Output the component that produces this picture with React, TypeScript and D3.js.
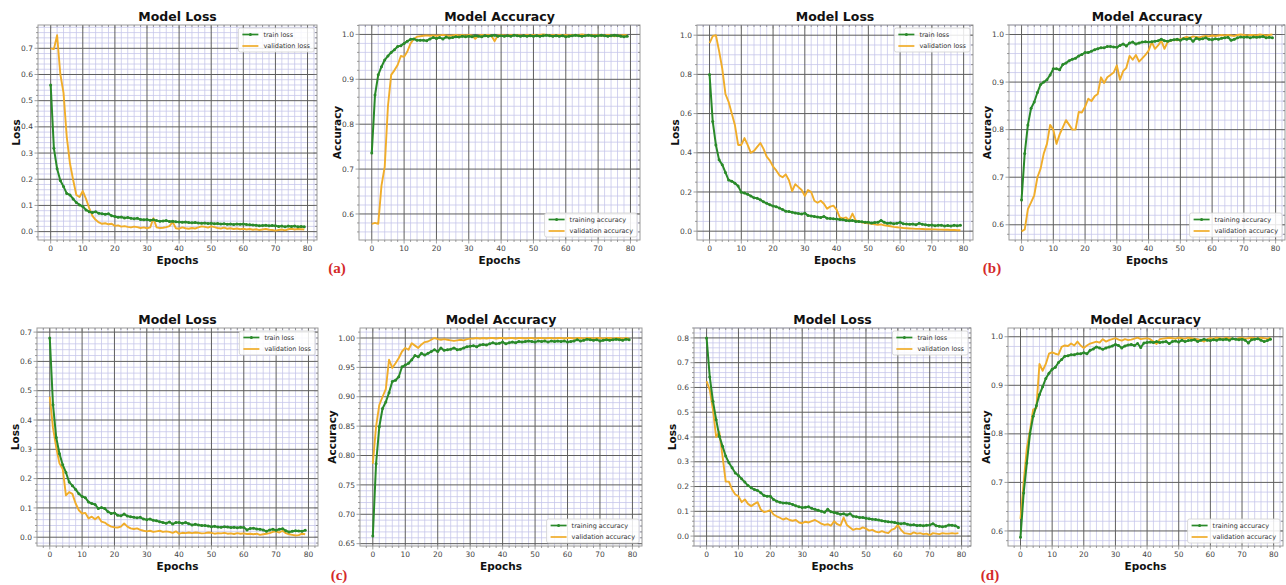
import React, { useRef, useEffect } from 'react';
import * as d3 from 'd3';

const W = 1286;
const H = 585;

const epochs = d3.range(80);
const epochTicks = [0, 10, 20, 30, 40, 50, 60, 70, 80];

const lossNames = ['train loss', 'validation loss'];
const accNames = ['training accuracy', 'validation accuracy'];

// (a)
const lossTrainA = [
  0.56, 0.318, 0.24, 0.195, 0.172, 0.146, 0.14, 0.125, 0.111, 0.102,
  0.096, 0.083, 0.076, 0.073, 0.076, 0.07, 0.068, 0.066, 0.068, 0.061,
  0.058, 0.055, 0.056, 0.052, 0.054, 0.051, 0.049, 0.051, 0.046, 0.045,
  0.046, 0.043, 0.045, 0.042, 0.04, 0.041, 0.042, 0.039, 0.04, 0.038,
  0.037, 0.036, 0.037, 0.035, 0.034, 0.035, 0.033, 0.032, 0.033, 0.031,
  0.032, 0.03, 0.031, 0.029, 0.03, 0.028, 0.029, 0.027, 0.029, 0.028,
  0.029, 0.027, 0.026, 0.025, 0.024, 0.022, 0.023, 0.024, 0.022, 0.023,
  0.022, 0.02, 0.021, 0.019, 0.021, 0.02, 0.021, 0.019, 0.02, 0.019,
];
const lossValA = [
  0.70, 0.697, 0.75, 0.602, 0.53, 0.363, 0.261, 0.197, 0.14, 0.132,
  0.155, 0.125, 0.09, 0.06, 0.045, 0.035, 0.03, 0.032, 0.028, 0.03,
  0.022, 0.024, 0.019, 0.021, 0.018, 0.016, 0.019, 0.017, 0.014, 0.016,
  0.013, 0.016, 0.051, 0.016, 0.014, 0.015, 0.017, 0.021, 0.037, 0.013,
  0.011, 0.016, 0.013, 0.011, 0.014, 0.012, 0.016, 0.02, 0.018, 0.015,
  0.02, 0.017, 0.014, 0.012, 0.015, 0.011, 0.013, 0.01, 0.012, 0.009,
  0.011, 0.008, 0.01, 0.007, 0.009, 0.006, 0.008, 0.01, 0.007, 0.006,
  0.004, 0.006, 0.008, 0.005, 0.009, 0.011, 0.008, 0.01, 0.009, 0.008,
];
const accTrainA = [
  0.736, 0.865, 0.91, 0.928, 0.943, 0.952, 0.96, 0.966, 0.973, 0.975,
  0.98, 0.985, 0.989, 0.99, 0.987, 0.987, 0.987, 0.986, 0.99, 0.993,
  0.991, 0.993, 0.99, 0.994, 0.992, 0.993, 0.995, 0.994, 0.996, 0.995,
  0.996, 0.995, 0.997, 0.996, 0.995, 0.997, 0.996, 0.997, 0.998, 0.996,
  0.997, 0.996, 0.997, 0.996, 0.998, 0.997, 0.996, 0.997, 0.996, 0.997,
  0.996, 0.997, 0.996, 0.997, 0.998, 0.997, 0.996, 0.997, 0.996, 0.997,
  0.995, 0.996, 0.997, 0.998, 0.997, 0.996, 0.997, 0.998, 0.997, 0.996,
  0.997, 0.998, 0.997, 0.996, 0.997, 0.998, 0.997, 0.996, 0.995, 0.996,
];
const accValA = [
  0.578, 0.58, 0.578, 0.663, 0.705, 0.84, 0.91, 0.92, 0.932, 0.952,
  0.95, 0.962, 0.98, 0.99, 0.995, 0.996, 0.997, 0.998, 0.997, 0.998,
  0.997, 0.998, 0.999, 0.998, 0.997, 0.998, 0.999, 0.998, 0.999, 0.998,
  0.999, 0.998, 0.99, 0.998, 0.999, 0.998, 0.999, 0.997, 0.985, 0.998,
  0.999, 0.998, 0.997, 0.999, 0.998, 0.999, 0.998, 0.997, 0.999, 0.998,
  0.999, 0.998, 0.999, 1.0, 0.999, 0.998, 0.999, 0.998, 0.999, 0.998,
  0.999, 0.998, 0.999, 0.998, 0.999, 1.0, 0.999, 0.998, 0.999, 0.998,
  0.999, 0.997, 0.998, 0.999, 0.998, 0.996, 0.997, 0.998, 0.999, 0.998,
];

// (b)
const lossTrainB = [
  0.80, 0.56, 0.44, 0.364, 0.339, 0.30, 0.261, 0.255, 0.245, 0.23,
  0.198, 0.195, 0.188, 0.18, 0.17, 0.168, 0.16, 0.15, 0.142, 0.135,
  0.128, 0.125, 0.118, 0.11, 0.102, 0.1, 0.097, 0.093, 0.09, 0.088,
  0.092, 0.08, 0.078, 0.075, 0.072, 0.07, 0.075, 0.066, 0.065, 0.063,
  0.062, 0.06, 0.058, 0.055, 0.053, 0.055, 0.05, 0.05, 0.048, 0.045,
  0.045, 0.042, 0.044, 0.045, 0.055, 0.045, 0.04, 0.042, 0.038, 0.04,
  0.045, 0.038, 0.036, 0.035, 0.037, 0.033, 0.04, 0.035, 0.033, 0.03,
  0.032, 0.028, 0.03, 0.03, 0.027, 0.029, 0.026, 0.03, 0.028, 0.03,
];
const lossValB = [
  0.96, 0.995, 1.0, 0.92, 0.83, 0.70, 0.66, 0.60, 0.54, 0.44,
  0.44, 0.475, 0.44, 0.40, 0.41, 0.43, 0.45, 0.42, 0.38, 0.36,
  0.33, 0.31, 0.285, 0.275, 0.29, 0.26, 0.205, 0.24, 0.225, 0.21,
  0.18, 0.21, 0.20, 0.155, 0.145, 0.155, 0.14, 0.115, 0.125, 0.13,
  0.11, 0.07, 0.065, 0.07, 0.055, 0.09, 0.055, 0.05, 0.045, 0.042,
  0.04, 0.038, 0.035, 0.033, 0.035, 0.03, 0.028, 0.025, 0.022, 0.02,
  0.018, 0.016, 0.015, 0.014, 0.013, 0.012, 0.012, 0.011, 0.01, 0.01,
  0.009, 0.009, 0.008, 0.008, 0.007, 0.007, 0.006, 0.006, 0.005, 0.005,
];
const accTrainB = [
  0.652, 0.75, 0.81, 0.845, 0.858, 0.878, 0.895, 0.90, 0.905, 0.915,
  0.928, 0.928, 0.926, 0.937, 0.94, 0.945, 0.948, 0.95, 0.955, 0.958,
  0.962, 0.962, 0.965, 0.968, 0.97, 0.972, 0.972, 0.975, 0.975, 0.974,
  0.973, 0.977, 0.98, 0.976, 0.982, 0.984, 0.98, 0.982, 0.984, 0.985,
  0.984, 0.985, 0.986, 0.987, 0.99, 0.987, 0.986, 0.988, 0.989, 0.99,
  0.988, 0.991, 0.99, 0.992, 0.986, 0.992, 0.99, 0.991, 0.993, 0.99,
  0.989, 0.991, 0.99, 0.992, 0.993, 0.994, 0.988, 0.99, 0.993, 0.995,
  0.994, 0.995, 0.993, 0.995, 0.994, 0.995, 0.996, 0.993, 0.994, 0.993,
];
const accValB = [
  0.586, 0.59, 0.633, 0.647, 0.662, 0.70, 0.718, 0.75, 0.77, 0.81,
  0.80, 0.77, 0.79, 0.805, 0.82, 0.81, 0.80, 0.80, 0.837, 0.836,
  0.848, 0.865, 0.86, 0.87, 0.875, 0.91, 0.898, 0.91, 0.915, 0.92,
  0.935, 0.905, 0.923, 0.93, 0.955, 0.947, 0.957, 0.943, 0.95, 0.957,
  0.966, 0.984, 0.97, 0.977, 0.987, 0.97, 0.984, 0.987, 0.989, 0.988,
  0.99, 0.993, 0.995, 0.993, 0.996, 0.995, 0.994, 0.996, 0.997, 0.996,
  0.998, 0.997, 0.998, 0.999, 0.998, 0.999, 0.998, 0.997, 0.999, 1.0,
  0.999, 0.998, 0.999, 0.999, 0.998, 1.0, 0.999, 0.998, 0.999, 1.0,
];

// (c)
const lossTrainC = [
  0.68, 0.452, 0.34, 0.285, 0.247, 0.221, 0.188, 0.176, 0.163, 0.148,
  0.139, 0.135, 0.12, 0.115, 0.112, 0.098, 0.101, 0.098, 0.087, 0.081,
  0.083, 0.075, 0.073, 0.079, 0.072, 0.07, 0.068, 0.066, 0.068, 0.062,
  0.06, 0.062, 0.058, 0.056, 0.053, 0.05, 0.048, 0.052, 0.045, 0.05,
  0.05, 0.048, 0.05, 0.046, 0.042, 0.044, 0.042, 0.04, 0.04, 0.038,
  0.036, 0.037, 0.035, 0.034, 0.036, 0.035, 0.033, 0.034, 0.032, 0.034,
  0.033, 0.025, 0.03, 0.031, 0.028, 0.027, 0.025, 0.02, 0.025, 0.027,
  0.024, 0.027, 0.029, 0.022, 0.018, 0.02, 0.022, 0.021, 0.02, 0.024,
];
const lossValC = [
  0.48, 0.373, 0.306, 0.252, 0.233, 0.143, 0.154, 0.148, 0.115, 0.092,
  0.081, 0.083, 0.064, 0.07, 0.061, 0.07, 0.053, 0.05, 0.042, 0.036,
  0.034, 0.033, 0.036, 0.047, 0.036, 0.03, 0.028, 0.03, 0.025, 0.022,
  0.02, 0.022, 0.018, 0.02, 0.022, 0.018, 0.02, 0.018, 0.015, 0.02,
  0.012, 0.015, 0.014, 0.016, 0.014, 0.016, 0.015, 0.013, 0.014, 0.016,
  0.015, 0.012, 0.014, 0.013, 0.015, 0.012, 0.013, 0.011, 0.014, 0.012,
  0.013, 0.011, 0.012, 0.01, 0.012, 0.008, 0.01, 0.012, 0.014, 0.018,
  0.02, 0.016, 0.022, 0.014, 0.01, 0.008, 0.006, 0.007, 0.012, 0.01,
];
const accTrainC = [
  0.663, 0.786, 0.849, 0.88, 0.891, 0.907, 0.926, 0.928, 0.934, 0.951,
  0.954, 0.957, 0.963, 0.97, 0.968, 0.974, 0.971, 0.974, 0.977, 0.98,
  0.977, 0.983, 0.979, 0.98, 0.981, 0.983, 0.98, 0.981, 0.983, 0.985,
  0.986, 0.987, 0.985, 0.988, 0.989, 0.988, 0.99, 0.992, 0.99, 0.991,
  0.993, 0.99, 0.992, 0.993, 0.992, 0.994, 0.993, 0.994, 0.995, 0.994,
  0.993, 0.995, 0.994, 0.995, 0.993, 0.995, 0.994, 0.995, 0.994, 0.995,
  0.993, 0.994, 0.995, 0.997, 0.995, 0.996, 0.998, 0.997, 0.996, 0.997,
  0.995, 0.996, 0.997, 0.996, 0.997, 0.998, 0.997, 0.996, 0.998, 0.997,
];
const accValC = [
  0.786, 0.849, 0.886, 0.90, 0.913, 0.963, 0.949, 0.957, 0.966, 0.977,
  0.983, 0.98, 0.991, 0.987, 0.983, 0.989, 0.993, 0.994, 0.997, 1.0,
  0.998, 0.997, 0.998, 0.997, 0.996, 0.995, 0.996, 0.997, 0.996, 0.998,
  0.999, 0.999, 1.0, 0.999, 1.0, 0.999, 1.0, 1.0, 0.999, 1.0,
  1.0, 0.999, 1.0, 1.0, 0.999, 1.0, 1.0, 0.999, 1.0, 1.0,
  0.999, 1.0, 1.0, 0.999, 1.0, 1.0, 0.999, 1.0, 1.0, 0.999,
  1.0, 1.0, 0.999, 1.0, 1.0, 0.999, 1.0, 1.0, 0.999, 1.0,
  1.0, 0.999, 1.0, 1.0, 0.999, 1.0, 1.0, 0.999, 1.0, 0.999,
];

// (d)
const lossTrainD = [
  0.80, 0.642, 0.544, 0.47, 0.403, 0.363, 0.323, 0.296, 0.276, 0.255,
  0.245, 0.231, 0.218, 0.204, 0.195, 0.188, 0.184, 0.175, 0.164, 0.161,
  0.161, 0.148, 0.141, 0.137, 0.134, 0.134, 0.132, 0.128, 0.122, 0.118,
  0.115, 0.116, 0.118, 0.112, 0.108, 0.104, 0.1, 0.096, 0.108, 0.098,
  0.095, 0.092, 0.088, 0.09, 0.085, 0.09, 0.08, 0.078, 0.075, 0.075,
  0.072, 0.07, 0.068, 0.067, 0.065, 0.062, 0.06, 0.058, 0.057, 0.055,
  0.052, 0.05, 0.052, 0.048, 0.045, 0.046, 0.043, 0.044, 0.042, 0.044,
  0.045, 0.05, 0.042, 0.04, 0.038, 0.04, 0.045, 0.044, 0.042, 0.035,
];
const lossValD = [
  0.625, 0.59, 0.51, 0.40, 0.42, 0.323, 0.22, 0.22, 0.188, 0.168,
  0.161, 0.137, 0.148, 0.13, 0.121, 0.13, 0.137, 0.107, 0.097, 0.10,
  0.105, 0.087, 0.08, 0.074, 0.067, 0.072, 0.065, 0.062, 0.065, 0.055,
  0.052, 0.058, 0.055, 0.06, 0.065, 0.058, 0.05, 0.045, 0.048, 0.042,
  0.06, 0.048, 0.042, 0.075, 0.045, 0.035, 0.025, 0.03, 0.028, 0.035,
  0.03, 0.022, 0.025, 0.018, 0.015, 0.02, 0.015, 0.012, 0.025, 0.03,
  0.045, 0.025, 0.012, 0.01, 0.008, 0.015, 0.01, 0.012, 0.008, 0.01,
  0.004, 0.012, 0.01, 0.008, 0.012, 0.01, 0.01, 0.012, 0.01, 0.012,
];
const accTrainD = [
  0.587, 0.678, 0.74, 0.80, 0.836, 0.858, 0.881, 0.897, 0.914, 0.925,
  0.933, 0.937, 0.947, 0.953, 0.96, 0.961, 0.963, 0.963, 0.965, 0.965,
  0.967, 0.965, 0.972, 0.975, 0.979, 0.977, 0.974, 0.977, 0.979, 0.981,
  0.984, 0.982, 0.977, 0.981, 0.983, 0.984, 0.982, 0.986, 0.978, 0.987,
  0.988, 0.989, 0.988, 0.99, 0.988, 0.989, 0.99, 0.986, 0.99, 0.991,
  0.989, 0.993, 0.99, 0.992, 0.993, 0.994, 0.99, 0.993, 0.995, 0.993,
  0.992, 0.994, 0.993, 0.995, 0.994, 0.995, 0.993, 0.996, 0.995, 0.994,
  0.995, 0.993, 0.987, 0.994, 0.995, 0.996, 0.993, 0.99, 0.992, 0.995,
];
const accValD = [
  0.625, 0.70, 0.77, 0.807, 0.85, 0.853, 0.944, 0.93, 0.944, 0.965,
  0.968, 0.965, 0.963, 0.979, 0.982, 0.981, 0.986, 0.982, 0.99, 0.982,
  0.977, 0.982, 0.986, 0.988, 0.99, 0.988, 0.995, 0.99, 0.993, 0.995,
  0.997, 0.994, 0.992, 0.995, 0.993, 0.994, 0.996, 0.998, 0.995, 0.996,
  0.997, 0.995, 0.99, 0.985, 0.995, 0.996, 0.997, 0.998, 0.997, 0.996,
  0.998, 0.997, 0.996, 0.998, 0.997, 0.996, 0.995, 0.993, 0.99, 0.995,
  0.997, 0.996, 0.998, 0.997, 0.996, 0.998, 0.997, 0.996, 0.995, 0.997,
  0.998, 0.996, 0.997, 0.998, 0.997, 0.996, 0.998, 0.997, 0.996, 0.998,
];

const lossTicks7 = [0, 0.1, 0.2, 0.3, 0.4, 0.5, 0.6, 0.7];
const lossTicks8 = [0, 0.1, 0.2, 0.3, 0.4, 0.5, 0.6, 0.7, 0.8];
const lossTicksB = [0, 0.2, 0.4, 0.6, 0.8, 1.0];
const accTicks = [0.6, 0.7, 0.8, 0.9, 1.0];
const accTicksC = [0.65, 0.7, 0.75, 0.8, 0.85, 0.9, 0.95, 1.0];

const GREEN = '#2a8a2a';
const ORANGE = '#f0ad2a';
const FONT = 'DejaVu Sans, Liberation Sans, sans-serif';

// layout per subplot: box = [left, top, width, height]
const panels = [
  { title: 'Model Loss', yLabel: 'Loss', box: [38, 25, 279, 215], yDomain: [-0.032, 0.789], yTicks: lossTicks7, yMinor: 0.02, fmt: '.1f', train: lossTrainA, val: lossValA, names: lossNames, legendTop: true },
  { title: 'Model Accuracy', yLabel: 'Accuracy', box: [359, 25, 281, 215], yDomain: [0.542, 1.021], yTicks: accTicks, yMinor: 0.02, fmt: '.1f', train: accTrainA, val: accValA, names: accNames, legendTop: false },
  { title: 'Model Loss', yLabel: 'Loss', box: [697, 25, 276, 215], yDomain: [-0.045, 1.052], yTicks: lossTicksB, yMinor: 0.05, fmt: '.1f', train: lossTrainB, val: lossValB, names: lossNames, legendTop: true },
  { title: 'Model Accuracy', yLabel: 'Accuracy', box: [1009, 25, 276, 215], yDomain: [0.568, 1.02], yTicks: accTicks, yMinor: 0.02, fmt: '.1f', train: accTrainB, val: accValB, names: accNames, legendTop: false },
  { title: 'Model Loss', yLabel: 'Loss', box: [37, 328, 281, 218], yDomain: [-0.03, 0.714], yTicks: lossTicks7, yMinor: 0.02, fmt: '.1f', train: lossTrainC, val: lossValC, names: lossNames, legendTop: true },
  { title: 'Model Accuracy', yLabel: 'Accuracy', box: [360, 328, 282, 218], yDomain: [0.646, 1.017], yTicks: accTicksC, yMinor: 0.01, fmt: '.2f', train: accTrainC, val: accValC, names: accNames, legendTop: false },
  { title: 'Model Loss', yLabel: 'Loss', box: [694, 328, 277, 218], yDomain: [-0.04, 0.84], yTicks: lossTicks8, yMinor: 0.02, fmt: '.1f', train: lossTrainD, val: lossValD, names: lossNames, legendTop: true },
  { title: 'Model Accuracy', yLabel: 'Accuracy', box: [1008, 328, 275, 218], yDomain: [0.569, 1.018], yTicks: accTicks, yMinor: 0.02, fmt: '.1f', train: accTrainD, val: accValD, names: accNames, legendTop: false },
];

const panelTags = [
  { text: '(a)', x: 337, y: 268 },
  { text: '(b)', x: 992, y: 268 },
  { text: '(c)', x: 339, y: 575 },
  { text: '(d)', x: 990, y: 575 },
];

const stepsIn = (lo: number, hi: number, step: number) =>
  d3.range(Math.ceil(lo / step - 1e-9), Math.floor(hi / step + 1e-9) + 1).map(i => +(i * step).toFixed(4));

function drawPanel(svg: any, p: any) {
  const [left, top, w, h] = p.box;
  const x = d3.scaleLinear().domain([-3.95, 82.95]).range([left, left + w]);
  const y = d3.scaleLinear().domain(p.yDomain).range([top + h, top]);
  const g = svg.append('g');

  const isMajorX = (v: number) => epochTicks.some(t => Math.abs(t - v) < 1e-6);
  const isMajorY = (v: number) => p.yTicks.some((t: number) => Math.abs(t - v) < 1e-6);
  const xMinor = stepsIn(-3.95, 82.95, 2).filter(v => !isMajorX(v));
  const yMinor = stepsIn(p.yDomain[0], p.yDomain[1], p.yMinor).filter(v => !isMajorY(v));

  // minor grid
  g.append('g').selectAll('line').data(xMinor).join('line')
    .attr('x1', d => x(d)).attr('x2', d => x(d)).attr('y1', top).attr('y2', top + h)
    .attr('stroke', '#c4c4ea').attr('stroke-width', 0.75);
  g.append('g').selectAll('line').data(yMinor).join('line')
    .attr('x1', left).attr('x2', left + w).attr('y1', d => y(d)).attr('y2', d => y(d))
    .attr('stroke', '#c4c4ea').attr('stroke-width', 0.75);

  // major grid
  g.append('g').selectAll('line').data(epochTicks).join('line')
    .attr('x1', d => x(d)).attr('x2', d => x(d)).attr('y1', top).attr('y2', top + h)
    .attr('stroke', '#5e5e5e').attr('stroke-width', 1);
  g.append('g').selectAll('line').data(p.yTicks).join('line')
    .attr('x1', left).attr('x2', left + w).attr('y1', (d: number) => y(d)).attr('y2', (d: number) => y(d))
    .attr('stroke', '#5e5e5e').attr('stroke-width', 1);

  // frame
  g.append('rect').attr('x', left).attr('y', top).attr('width', w).attr('height', h)
    .attr('fill', 'none').attr('stroke', '#9a9a9a').attr('stroke-width', 1);

  // tick marks
  const tk = g.append('g').attr('stroke', '#777').attr('stroke-width', 0.7);
  xMinor.forEach(v => {
    tk.append('line').attr('x1', x(v)).attr('x2', x(v)).attr('y1', top + h).attr('y2', top + h + 2);
    tk.append('line').attr('x1', x(v)).attr('x2', x(v)).attr('y1', top).attr('y2', top + 2);
  });
  epochTicks.forEach(v => {
    tk.append('line').attr('x1', x(v)).attr('x2', x(v)).attr('y1', top + h).attr('y2', top + h + 3.5);
    tk.append('line').attr('x1', x(v)).attr('x2', x(v)).attr('y1', top).attr('y2', top + 3.5);
  });
  yMinor.forEach(v => {
    tk.append('line').attr('x1', left - 2).attr('x2', left).attr('y1', y(v)).attr('y2', y(v));
    tk.append('line').attr('x1', left + w - 2).attr('x2', left + w).attr('y1', y(v)).attr('y2', y(v));
  });
  p.yTicks.forEach((v: number) => {
    tk.append('line').attr('x1', left - 3.5).attr('x2', left).attr('y1', y(v)).attr('y2', y(v));
    tk.append('line').attr('x1', left + w - 3.5).attr('x2', left + w).attr('y1', y(v)).attr('y2', y(v));
  });

  // tick labels
  const fmt = d3.format(p.fmt);
  g.append('g').selectAll('text').data(epochTicks).join('text')
    .attr('x', d => x(d)).attr('y', top + h + 11)
    .attr('text-anchor', 'middle').attr('font-size', 7.5).attr('fill', '#444')
    .attr('font-family', FONT).text(d => d);
  g.append('g').selectAll('text').data(p.yTicks).join('text')
    .attr('x', left - 5).attr('y', (d: number) => y(d)).attr('dy', '0.35em')
    .attr('text-anchor', 'end').attr('font-size', 7.5).attr('fill', '#444')
    .attr('font-family', FONT).text((d: number) => fmt(d));

  // lines
  const line = d3.line<number>().x((_, i) => x(epochs[i])).y(d => y(d));
  g.append('path').datum(p.val).attr('d', line)
    .attr('fill', 'none').attr('stroke', ORANGE).attr('stroke-width', 1.9).attr('stroke-linejoin', 'round');
  g.append('path').datum(p.train).attr('d', line)
    .attr('fill', 'none').attr('stroke', GREEN).attr('stroke-width', 2).attr('stroke-linejoin', 'round');
  g.append('g').selectAll('circle').data(p.train).join('circle')
    .attr('cx', (_: number, i: number) => x(epochs[i])).attr('cy', (d: number) => y(d))
    .attr('r', 1.5).attr('fill', GREEN);

  // title and axis labels
  g.append('text').attr('x', left + w / 2).attr('y', top - 4)
    .attr('text-anchor', 'middle').attr('font-size', 12.5).attr('font-weight', 'bold')
    .attr('font-family', FONT).attr('fill', '#111').text(p.title);
  g.append('text').attr('x', left + w / 2).attr('y', top + h + 24)
    .attr('text-anchor', 'middle').attr('font-size', 10.5).attr('font-weight', 'bold')
    .attr('font-family', FONT).attr('fill', '#111').text('Epochs');
  const ylx = left - (p.fmt === '.2f' ? 28 : 22);
  g.append('text').attr('transform', `translate(${ylx},${top + h / 2}) rotate(-90)`)
    .attr('text-anchor', 'middle').attr('dy', '0.35em').attr('font-size', 10.5).attr('font-weight', 'bold')
    .attr('font-family', FONT).attr('fill', '#111').text(p.yLabel);

  // legend
  const lg = g.append('g');
  const box = lg.append('rect').attr('fill', 'white').attr('fill-opacity', 0.85)
    .attr('stroke', '#cfcfcf').attr('stroke-width', 0.8).attr('rx', 2);
  const texts = p.names.map((n: string, i: number) =>
    lg.append('text').attr('x', 25).attr('y', 6.5 + i * 11.5).attr('dy', '0.35em')
      .attr('font-size', 6.5).attr('fill', '#333').attr('font-family', FONT).text(n));
  const tw = d3.max(texts, (t: any) => (t.node() as SVGTextElement).getComputedTextLength()) as number;
  const lw = 25 + tw + 4;
  const lh = 24;
  box.attr('width', lw).attr('height', lh);
  [GREEN, ORANGE].forEach((c, i) => {
    lg.append('line').attr('x1', 4).attr('x2', 20).attr('y1', 6.5 + i * 11.5).attr('y2', 6.5 + i * 11.5)
      .attr('stroke', c).attr('stroke-width', 1.7);
  });
  lg.append('circle').attr('cx', 12).attr('cy', 6.5).attr('r', 1.5).attr('fill', GREEN);
  const lx = left + w - 3 - lw;
  const ly = p.legendTop ? top + 3 : top + h - 3 - lh;
  lg.attr('transform', `translate(${lx},${ly})`);
}

export default function App() {
  const svgRef = useRef<SVGSVGElement>(null);

  useEffect(() => {
    const svg = d3.select(svgRef.current);
    svg.selectAll('*').remove();
    svg.append('rect').attr('width', W).attr('height', H).attr('fill', '#fff');
    panels.forEach(p => drawPanel(svg, p));
    svg.append('g').selectAll('text').data(panelTags).join('text')
      .attr('x', d => d.x).attr('y', d => d.y).attr('dy', '0.35em')
      .attr('text-anchor', 'middle').attr('font-size', 15).attr('font-weight', 'bold')
      .attr('font-family', 'Liberation Serif, DejaVu Serif, serif').attr('fill', '#d42a2a')
      .text(d => d.text);
  }, []);

  return (
    <svg ref={svgRef} width={W} height={H} style={{ position: 'absolute', left: 0, top: 0 }}></svg>
  );
}
